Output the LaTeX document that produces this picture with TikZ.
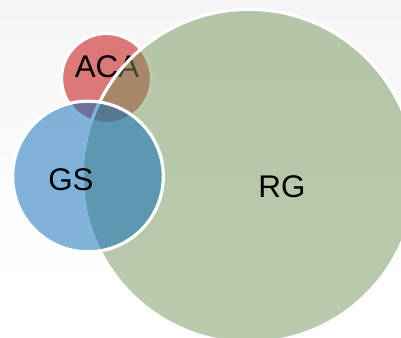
\documentclass[tikz,border=0pt]{standalone}
\usepackage{fontspec}
\setmainfont{Liberation Sans}
\definecolor{acared}{RGB}{221,120,120}
\definecolor{rggreen}{RGB}{115,151,89}
\definecolor{gsblue}{RGB}{5,105,185}
\begin{document}
\begin{tikzpicture}[x=0.75pt, y=0.75pt,
    venn/.style ={circle, draw=white, line width=2.4pt, inner sep=0pt},
    setname/.style ={inner sep=0pt, font=\fontsize{23.5}{28}\selectfont}]
   \useasboundingbox (0,0) rectangle (401,338);
   \shade[top color=gray!8, bottom color=white] (0,60) rectangle (401,338);
   % sets, bottom to top
   \node[venn, fill=acared, minimum size=67.5pt] (ACA) at (106.5,259.5) {};
   \node[setname] (ACAname) at (107,271) {ACA};
   \node[venn, fill=rggreen, fill opacity=0.5, minimum size=250pt] (RG) at (249,162) {};
   \node[setname] (RGname) at (282,151) {RG};
   \node[venn, fill=gsblue, fill opacity=0.5, minimum size=113pt] (GS) at (88,161.5) {};
   \node[setname] (GSname) at (71,158) {GS};
 \end{tikzpicture}
\end{document}
